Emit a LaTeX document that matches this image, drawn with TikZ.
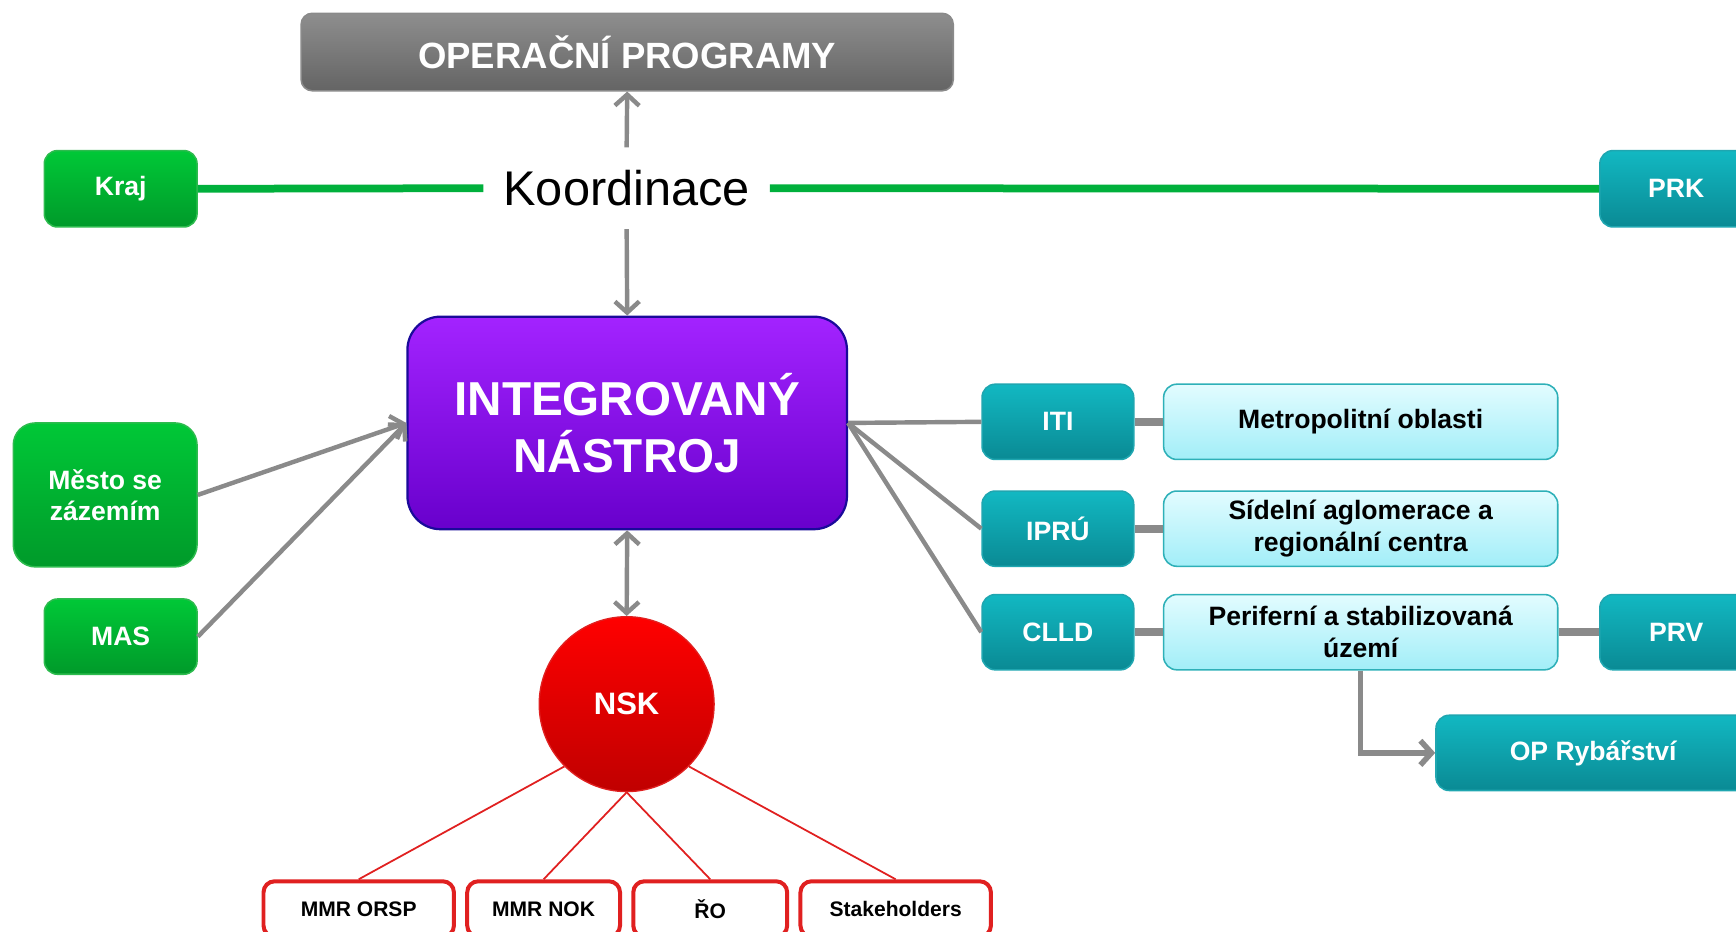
\documentclass[tikz,border=0pt]{standalone}
\usepackage{fontspec}
\setmainfont{Liberation Sans}
\usetikzlibrary{arrows.meta}
\definecolor{grtop}{HTML}{00C837}
\definecolor{grbot}{HTML}{009A2A}
\definecolor{grborder}{HTML}{2DBB4E}
\definecolor{tltop}{HTML}{12B8C2}
\definecolor{tlbot}{HTML}{0A8A94}
\definecolor{tlborder}{HTML}{1FA6B0}
\definecolor{lctop}{HTML}{E2FCFF}
\definecolor{lcbot}{HTML}{A2EEF8}
\definecolor{lcborder}{HTML}{2EB0B8}
\definecolor{pptop}{HTML}{A323FF}
\definecolor{ppbot}{HTML}{6800CC}
\definecolor{ppborder}{HTML}{1A0A9A}
\definecolor{optop}{HTML}{8E8E8E}
\definecolor{opbot}{HTML}{646464}
\definecolor{cgray}{HTML}{8A8A8A}
\definecolor{glin}{HTML}{00B03C}
\definecolor{rline}{HTML}{E02020}
\definecolor{rdtop}{HTML}{FF0000}
\definecolor{rdbot}{HTML}{C00000}
\begin{document}
\begin{tikzpicture}[x=0.5pt,y=-0.5pt,
  basebox/.style={rounded corners=6pt, inner sep=0pt, align=center, line width=0.7pt},
  greenbox/.style={basebox, top color=grtop, bottom color=grbot, draw=grborder, text=white,
     font=\bfseries\fontsize{12}{14}\selectfont, minimum width=69pt, minimum height=34.5pt},
  tealbox/.style={basebox, top color=tltop, bottom color=tlbot, draw=tlborder, text=white,
     font=\bfseries\fontsize{12}{14}\selectfont, minimum width=68.5pt, minimum height=34pt},
  lightbox/.style={basebox, top color=lctop, bottom color=lcbot, draw=lcborder, text=black,
     font=\bfseries\fontsize{12}{14.5}\selectfont, minimum width=178pt, minimum height=34pt},
  redbox/.style={basebox, rounded corners=5pt, fill=white, draw=rline, line width=1.8pt, text=black,
     font=\bfseries\fontsize{9.5}{11}\selectfont, minimum height=25pt},
  conn/.style={draw=cgray, line width=2pt},
  fatconn/.style={draw=cgray, line width=3.5pt},
  tip/.tip={Straight Barb[length=5pt,width=11pt]},
  arr/.style={conn, -tip},
  darr/.style={conn, tip-tip},
  redline/.style={draw=rline, line width=0.8pt},
]
\useasboundingbox (0,0) rectangle (1568,841);

% top
\node[basebox, rounded corners=5pt, top color=optop, bottom color=opbot, draw=cgray,
  minimum width=294.5pt, minimum height=35pt, text=white,
  font=\bfseries\fontsize{16.5}{18}\selectfont] (op) at (566.5,47) {OPERAČNÍ PROGRAMY};
\node[inner sep=0pt, minimum width=129pt, minimum height=36.5pt,
  font=\fontsize{22}{24}\selectfont] (koord) at (566,170) {Koordinace};
\node[greenbox] (kraj) at (109,170.5) {Kraj};
\node[tealbox, minimum width=69pt, minimum height=34.5pt] (prk) at (1514,170.5) {PRK};

% centre
\node[basebox, rounded corners=15pt, top color=pptop, bottom color=ppbot, draw=ppborder, line width=1pt,
  minimum width=198.5pt, minimum height=96pt, text=white,
  font=\bfseries\fontsize{21.5}{26}\selectfont] (in) at (566.5,382) {INTEGROVANÝ\\NÁSTROJ};

\node[greenbox, rounded corners=10pt, minimum width=83pt, minimum height=65pt] (mesto) at (95,447) {Město se\\zázemím};
\node[greenbox, minimum height=34pt] (mas) at (109,575) {MAS};

\node[circle, inner sep=0pt, minimum size=79pt, top color=rdtop, bottom color=rdbot, draw=rline, line width=0.6pt,
  text=white, font=\bfseries\fontsize{14}{16}\selectfont] (nsk) at (566,636) {NSK};

% right
\node[tealbox] (iti) at (955.5,381) {ITI};
\node[tealbox] (ipru) at (955.5,477.5) {IPRÚ};
\node[tealbox] (clld) at (955.5,571) {CLLD};
\node[lightbox] (metro) at (1229,381) {Metropolitní oblasti};
\node[lightbox] (sidel) at (1229,477.5) {Sídelní aglomerace a\\regionální centra};
\node[lightbox] (perif) at (1229,571) {Periferní a stabilizovaná\\území};
\node[tealbox, minimum width=69pt] (prv) at (1514,571) {PRV};
\node[tealbox, minimum width=142pt] (opryb) at (1439,680) {OP Rybářství};

% bottom
\node[redbox, minimum width=86pt] (orsp) at (324,821) {MMR ORSP};
\node[redbox, minimum width=69pt] (nok) at (491,821) {MMR NOK};
\node[redbox, minimum width=69.5pt] (ro) at (641.5,821) {ŘO};
\node[redbox, minimum width=86pt] (stake) at (809,821) {Stakeholders};

% connectors
\draw[draw=glin, line width=3.5pt] (kraj.east) -- (koord.west);
\draw[draw=glin, line width=3.5pt] (koord.east) -- (prk.west);
\draw[arr] (koord.north) -- (op.south);
\draw[arr] (koord.south) -- (in.north);
\draw[darr] (in.south) -- (nsk.north);
\draw[arr] (mesto.east) -- (in.west);
\draw[arr] (mas.east) -- (in.west);
\draw[conn] (in.east) -- (iti.west);
\draw[conn] (in.east) -- (ipru.west);
\draw[conn] (in.east) -- (clld.west);
\draw[fatconn] (iti.east) -- (metro.west);
\draw[fatconn] (ipru.east) -- (sidel.west);
\draw[fatconn] (clld.east) -- (perif.west);
\draw[fatconn] (perif.east) -- (prv.west);
\draw[conn, line width=2.5pt, -tip] (perif.south) |- (opryb.west);

\draw[redline] (nsk.-135) -- (orsp.north);
\draw[redline] (nsk.south) -- (nok.north);
\draw[redline] (nsk.south) -- (ro.north);
\draw[redline] (nsk.-45) -- (stake.north);
\end{tikzpicture}
\end{document}
